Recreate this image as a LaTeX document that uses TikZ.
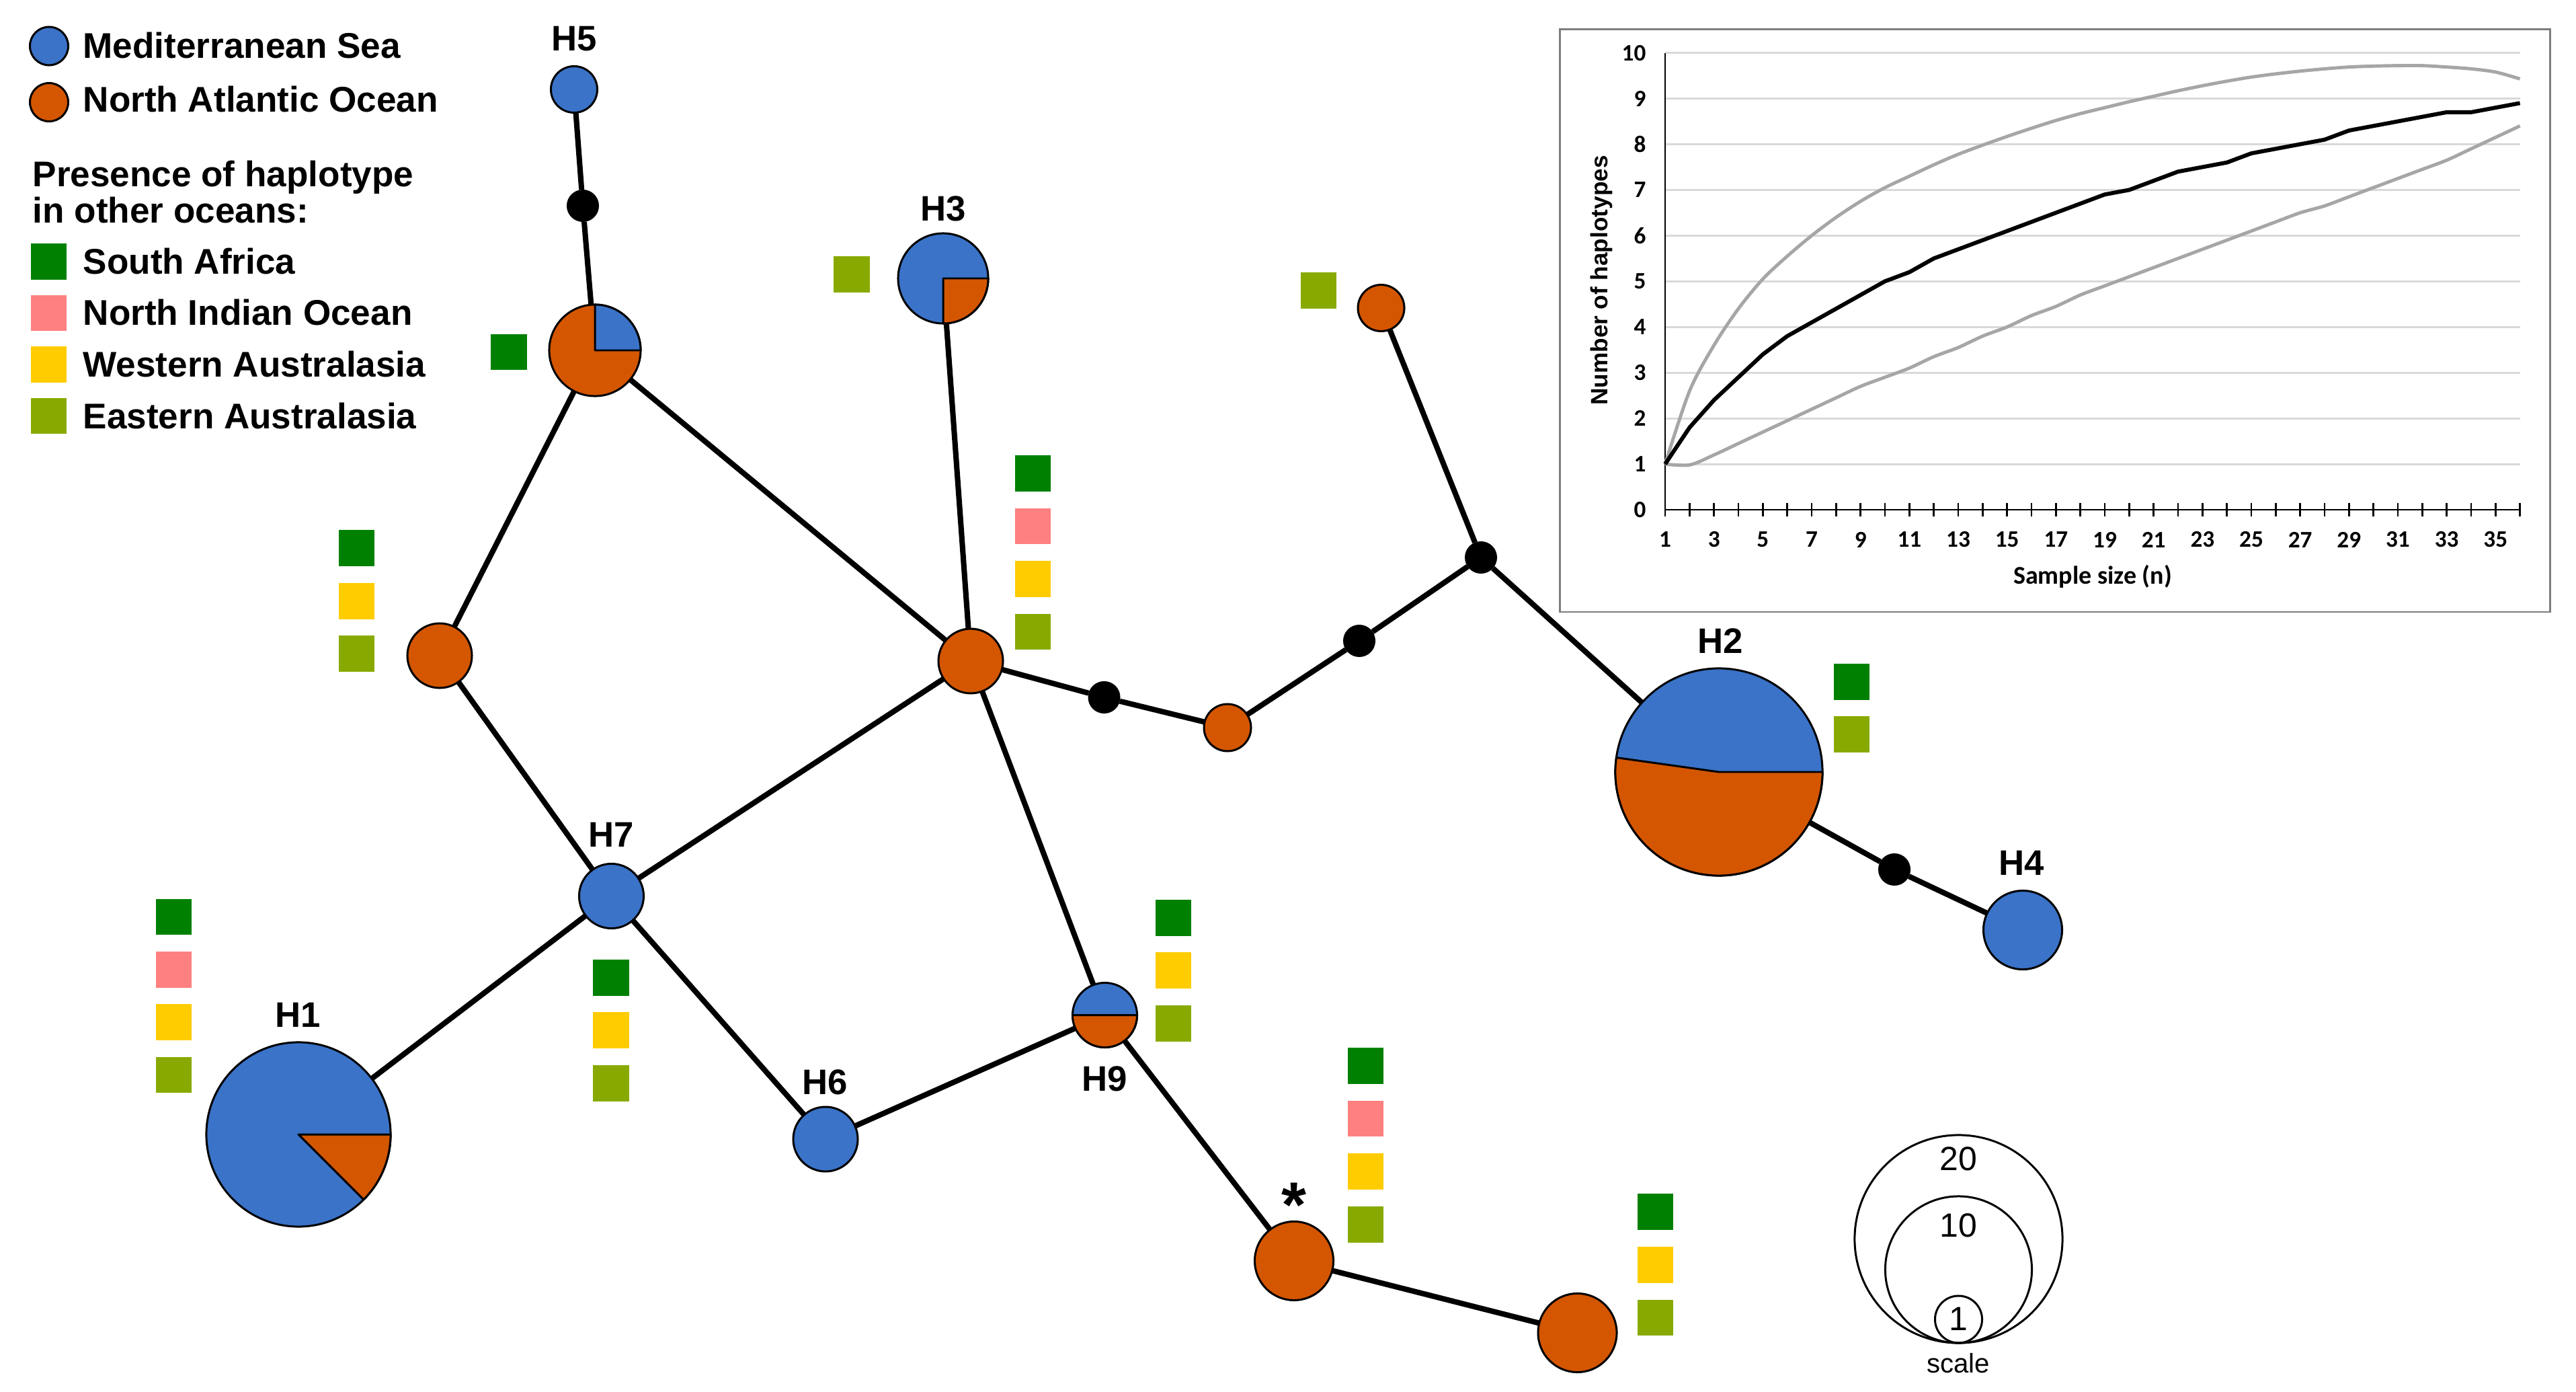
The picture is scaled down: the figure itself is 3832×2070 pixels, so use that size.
\documentclass[tikz,border=0pt]{standalone}
\usepackage{fontspec}
\setmainfont{Liberation Sans}
\newfontfamily\calib{Carlito}
\usetikzlibrary{backgrounds}
\definecolor{medblue}{RGB}{58,115,200}
\definecolor{atlor}{RGB}{212,86,0}
\definecolor{safr}{RGB}{0,128,0}
\definecolor{nind}{RGB}{255,128,128}
\definecolor{waus}{RGB}{255,204,0}
\definecolor{eaus}{RGB}{136,170,0}
\definecolor{gridgray}{RGB}{217,217,217}
\definecolor{curvegray}{RGB}{166,166,166}
\definecolor{boxgray}{RGB}{125,125,125}
\newcommand\hapwedge[5]{\filldraw[wedgefill,fill=#5] (#1.center) -- ++(#2:#4) arc[start angle=#2,end angle=#3,radius=#4] -- cycle;}
\begin{document}
\begin{tikzpicture}[x=0.01cm,y=-0.01cm,
  hap/.style={circle,draw=black,line width=0.85pt,inner sep=0pt,outer sep=0pt},
  med/.style={hap,fill=medblue},
  atl/.style={hap,fill=atlor},
  mv/.style={circle,fill=black,inner sep=0pt,outer sep=0pt,minimum size=0.48cm},
  sq/.style={rectangle,inner sep=0pt,outer sep=0pt,minimum size=0.53cm},
  link/.style={line width=2.3pt,black},
  hlab/.style={font=\fontsize{15}{18}\selectfont\bfseries,inner sep=0pt},
  legtxt/.style={font=\fontsize{15.1}{18}\selectfont\bfseries,inner sep=0pt,anchor=base west},
  wedgefill/.style={draw=black,line width=0.85pt,line join=round},
  scalec/.style={circle,draw=black,line width=0.85pt,inner sep=0pt,outer sep=0pt},
  scaletxt/.style={font=\fontsize{14.2}{17}\selectfont,inner sep=0pt},
  gridln/.style={gridgray,line width=0.85pt},
  tick/.style={font=\calib\bfseries\fontsize{10}{12}\selectfont,inner sep=0pt},
]
\useasboundingbox (0,0) rectangle (3832,2070);

% ---------- haplotype nodes ----------
\node[med,minimum size=0.69cm] (H5) at (854,133) {};
\node[mv] (d1) at (867,306) {};
\node[atl,minimum size=1.36cm] (A) at (885,521) {};
\node[med,minimum size=1.34cm] (H3) at (1403,414) {};
\node[atl,minimum size=0.96cm] (B) at (654,975) {};
\node[atl,minimum size=0.96cm] (C) at (1444,983) {};
\node[mv] (d2) at (1642.5,1037) {};
\node[atl,minimum size=0.70cm] (D) at (1826,1082) {};
\node[mv] (d3) at (2022,953) {};
\node[mv] (d4) at (2203,829) {};
\node[atl,minimum size=0.69cm] (E) at (2054.5,458) {};
\node[med,minimum size=3.08cm] (H2) at (2557,1148) {};
\node[mv] (d5) at (2818,1293) {};
\node[med,minimum size=1.17cm] (H4) at (3009,1383) {};
\node[med,minimum size=0.96cm] (H7) at (909.5,1332.5) {};
\node[med,minimum size=2.74cm] (H1) at (444,1687) {};
\node[med,minimum size=0.96cm] (H6) at (1228,1694) {};
\node[med,minimum size=0.96cm] (H9) at (1643.5,1509.5) {};
\node[atl,minimum size=1.17cm] (S) at (1925,1875) {};
\node[atl,minimum size=1.17cm] (L) at (2346.5,1982) {};

% pie sectors
\hapwedge{A}{0}{90}{0.68cm}{medblue}
\hapwedge{H3}{-90}{0}{0.67cm}{atlor}
\hapwedge{H2}{172}{360}{1.54cm}{atlor}
\hapwedge{H1}{-45}{0}{1.37cm}{atlor}
\hapwedge{H9}{180}{360}{0.48cm}{atlor}

% ---------- connectors ----------
\begin{scope}[on background layer]
\draw[link] (H5) -- (d1);
\draw[link] (d1) -- (A);
\draw[link] (A) -- (B);
\draw[link] (A) -- (C);
\draw[link] (B) -- (H7);
\draw[link] (H7) -- (C);
\draw[link] (H7) -- (H1);
\draw[link] (H7) -- (H6);
\draw[link] (H6) -- (H9);
\draw[link] (H9) -- (C);
\draw[link] (H9) -- (S);
\draw[link] (S) -- (L);
\draw[link] (C) -- (H3);
\draw[link] (C) -- (d2);
\draw[link] (d2) -- (D);
\draw[link] (D) -- (d3);
\draw[link] (d3) -- (d4);
\draw[link] (d4) -- (E);
\draw[link] (d4) -- (H2);
\draw[link] (H2) -- (d5);
\draw[link] (d5) -- (H4);
\end{scope}

% ---------- haplotype labels ----------
\node[hlab] (lH5) at (854,58) {H5};
\node[hlab] (lH3) at (1403,310) {H3};
\node[hlab] (lH7) at (909,1241) {H7};
\node[hlab] (lH1) at (443,1509) {H1};
\node[hlab] (lH6) at (1227,1609) {H6};
\node[hlab] (lH9) at (1643,1604) {H9};
\node[hlab] (lH2) at (2559,953) {H2};
\node[hlab] (lH4) at (3007,1283) {H4};
\node[font=\fontsize{27}{30}\selectfont\bfseries,inner sep=0pt,anchor=north] (ast) at (1925,1758) {*};

% ---------- presence squares ----------
\node[sq,fill=safr] (qA1) at (757,523.5) {};
\node[sq,fill=eaus] (qH3) at (1267,408) {};
\node[sq,fill=eaus] (qE) at (1961.5,432) {};
\node[sq,fill=safr] (qB1) at (530.5,815) {};
\node[sq,fill=waus] (qB2) at (530.5,894) {};
\node[sq,fill=eaus] (qB3) at (530.5,972) {};
\node[sq,fill=safr] (qC1) at (1536.5,704) {};
\node[sq,fill=nind] (qC2) at (1536.5,782.5) {};
\node[sq,fill=waus] (qC3) at (1536.5,861) {};
\node[sq,fill=eaus] (qC4) at (1536.5,939.5) {};
\node[sq,fill=safr] (qH21) at (2754.5,1014) {};
\node[sq,fill=eaus] (qH22) at (2754.5,1092) {};
\node[sq,fill=safr] (qH71) at (909,1454) {};
\node[sq,fill=waus] (qH72) at (909,1532) {};
\node[sq,fill=eaus] (qH73) at (909,1611) {};
\node[sq,fill=safr] (qH11) at (258.5,1363.5) {};
\node[sq,fill=nind] (qH12) at (258.5,1442) {};
\node[sq,fill=waus] (qH13) at (258.5,1520) {};
\node[sq,fill=eaus] (qH14) at (258.5,1598.5) {};
\node[sq,fill=safr] (qH91) at (1745,1365) {};
\node[sq,fill=waus] (qH92) at (1745,1443) {};
\node[sq,fill=eaus] (qH93) at (1745,1522) {};
\node[sq,fill=safr] (qS1) at (2031,1585) {};
\node[sq,fill=nind] (qS2) at (2031,1663.5) {};
\node[sq,fill=waus] (qS3) at (2031,1742) {};
\node[sq,fill=eaus] (qS4) at (2031,1821) {};
\node[sq,fill=safr] (qL1) at (2462.5,1802) {};
\node[sq,fill=waus] (qL2) at (2462.5,1881) {};
\node[sq,fill=eaus] (qL3) at (2462.5,1959.5) {};

% ---------- legend ----------
\node[hap,fill=medblue,minimum size=0.57cm] (legM) at (73,68.5) {};
\node[legtxt] (legMt) at (123,86.7) {Mediterranean Sea};
\node[hap,fill=atlor,minimum size=0.57cm] (legA) at (73,152) {};
\node[legtxt] (legAt) at (123,167) {North Atlantic Ocean};
\node[legtxt] (legP1) at (48,277.5) {Presence of haplotype};
\node[legtxt] (legP2) at (48,332) {in other oceans:};
\node[sq,fill=safr] (legq1) at (72.5,389) {};
\node[legtxt] (legt1) at (123,407.5) {South Africa};
\node[sq,fill=nind] (legq2) at (72.5,465.5) {};
\node[legtxt] (legt2) at (123,484) {North Indian Ocean};
\node[sq,fill=waus] (legq3) at (72.5,542) {};
\node[legtxt] (legt3) at (123,560.5) {Western Australasia};
\node[sq,fill=eaus] (legq4) at (72.5,618.5) {};
\node[legtxt] (legt4) at (123,637) {Eastern Australasia};

% ---------- scale ----------
\node[scalec,minimum size=3.09cm] (sc20) at (2913.5,1842.5) {};
\node[scalec,minimum size=2.18cm] (sc10) at (2913.5,1888) {};
\node[scalec,minimum size=0.70cm] (sc1) at (2913.5,1962) {};
\node[scaletxt] (sct20) at (2913,1723) {20};
\node[scaletxt] (sct10) at (2913,1822) {10};
\node[scaletxt] (sct1) at (2913,1961) {1};
\node[font=\fontsize{11.4}{13}\selectfont,inner sep=0pt,anchor=base] (sctxt) at (2913,2041) {scale};

% ---------- rarefaction inset ----------
\draw[boxgray,line width=0.85pt] (2320,44) rectangle (3793,910);
\node[font=\bfseries\fontsize{10}{12}\selectfont,rotate=90,inner sep=0pt] (ytitle) at (2382,417) {Number of haplotypes};
\node[font=\calib\bfseries\fontsize{10.8}{13}\selectfont,inner sep=0pt] (xtitle) at (3113,857) {Sample size (n)};
\begin{scope}[shift={(2440.69,758)},x=0.3631cm,y=0.679cm]
  \foreach \v in {1,...,10} \draw[gridln] (1,\v) -- (36,\v);
  \draw[black,line width=0.7pt] (1,0) -- (1,10);
  \draw[black,line width=0.8pt] (1,0) -- (36,0);
  \foreach \n in {1,...,36} \draw[black,line width=0.7pt] (\n,-0.147) -- (\n,0.147);
  \foreach \v in {0,...,10} \node[tick,anchor=east] (yt\v) at (0.229,\v) {\v};
  \foreach \n in {1,3,...,35} \node[tick] (xt\n) at (\n,-0.655) {\n};
  \draw[curvegray,line width=1.4pt,line join=round] plot[smooth,tension=0.5] coordinates {(1,1) (2,2.6) (3,3.6) (4,4.4) (5,5.05) (6,5.55) (7,6.0) (8,6.4) (9,6.75) (10,7.05) (11,7.3) (12,7.55) (13,7.78) (14,7.98) (15,8.17) (16,8.35) (17,8.52) (18,8.67) (19,8.8) (20,8.93) (21,9.05) (22,9.17) (23,9.28) (24,9.38) (25,9.47) (26,9.54) (27,9.6) (28,9.65) (29,9.69) (30,9.71) (31,9.72) (32,9.72) (33,9.69) (34,9.65) (35,9.58) (36,9.43)};
  \draw[curvegray,line width=1.4pt,line join=round] plot[smooth,tension=0.5] coordinates {(1,1) (2,0.98) (3,1.2) (4,1.45) (5,1.7) (6,1.95) (7,2.2) (8,2.45) (9,2.7) (10,2.9) (11,3.1) (12,3.35) (13,3.55) (14,3.8) (15,4.0) (16,4.25) (17,4.45) (18,4.7) (19,4.9) (20,5.1) (21,5.3) (22,5.5) (23,5.7) (24,5.9) (25,6.1) (26,6.3) (27,6.5) (28,6.65) (29,6.85) (30,7.05) (31,7.25) (32,7.45) (33,7.65) (34,7.9) (35,8.15) (36,8.4)};
  \draw[black,line width=1.7pt,line join=round] plot coordinates {(1,1) (2,1.8) (3,2.4) (4,2.9) (5,3.4) (6,3.8) (7,4.1) (8,4.4) (9,4.7) (10,5.0) (11,5.2) (12,5.5) (13,5.7) (14,5.9) (15,6.1) (16,6.3) (17,6.5) (18,6.7) (19,6.9) (20,7.0) (21,7.2) (22,7.4) (23,7.5) (24,7.6) (25,7.8) (26,7.9) (27,8.0) (28,8.1) (29,8.3) (30,8.4) (31,8.5) (32,8.6) (33,8.7) (34,8.7) (35,8.8) (36,8.9)};
\end{scope}
\end{tikzpicture}
\end{document}
